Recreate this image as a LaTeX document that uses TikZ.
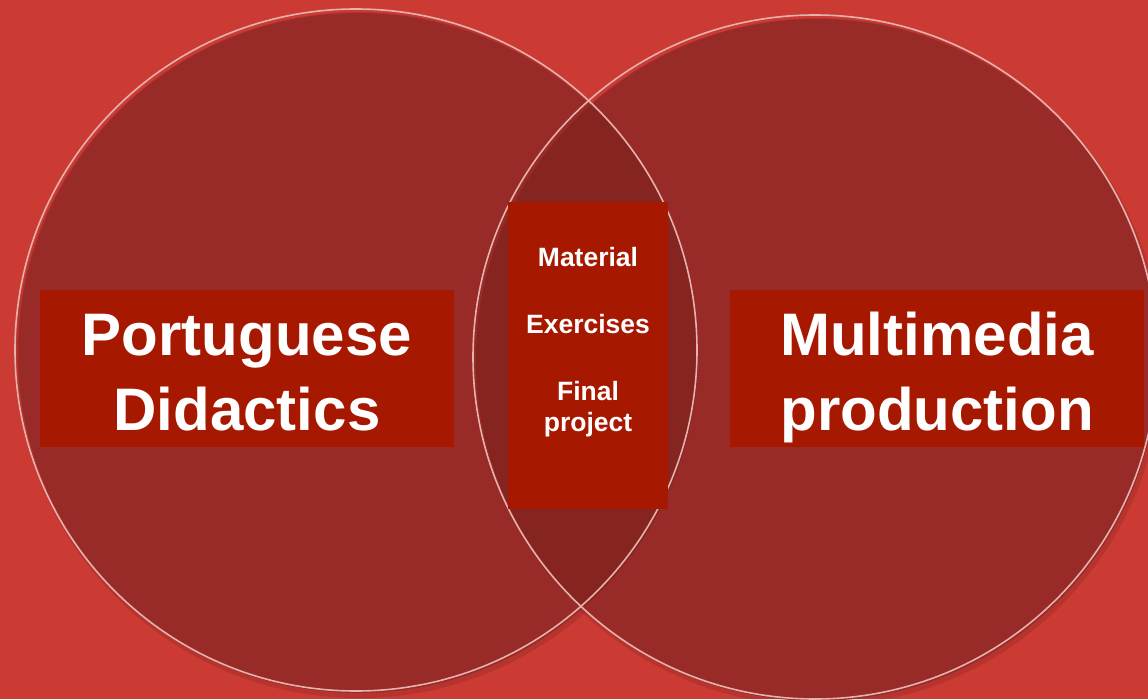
\documentclass[tikz,border=0pt]{standalone}
\usepackage{fontspec}
\setmainfont{Liberation Sans}
\definecolor{bgred}{HTML}{CC3A34}
\definecolor{discred}{HTML}{982A27}
\definecolor{lensred}{HTML}{86241F}
\definecolor{boxred}{HTML}{A71800}
\definecolor{rimpink}{HTML}{E6B2AE}
\tikzset{
  disc/.style={fill=discred},
  rim/.style={draw=rimpink, line width=1.6pt},
  labelbox/.style={fill=boxred, inner sep=0pt, outer sep=0pt},
  bigtxt/.style={text=white, font=\fontsize{60}{75}\selectfont\bfseries, inner sep=0pt, anchor=base},
  smalltxt/.style={text=white, font=\fontsize{26.5}{31}\selectfont\bfseries, inner sep=0pt, anchor=base},
}
\begin{document}
\begin{tikzpicture}[x=1pt,y=-1pt]
  \useasboundingbox (0,0) rectangle (1148,699);
  % background
  \fill[bgred] (0,0) rectangle (1148,699);
  % soft shadows of the two discs
  \fill[black, opacity=0.10] (359,355) circle[radius=343pt];
  \fill[black, opacity=0.10] (818,362) circle[radius=344pt];
  % discs
  \fill[disc] (358,353) circle[radius=340pt];
  \fill[disc] (817,360) circle[radius=341pt];
  % overlap of the two discs
  \begin{scope}
    \clip (358,353) circle[radius=340pt];
    \fill[lensred] (817,360) circle[radius=341pt];
  \end{scope}
  % rims
  \draw[rim] (356,350) circle[radius=341pt];
  \draw[rim] (815,357) circle[radius=342pt];
  % label boxes
  \node[labelbox, minimum width=414pt, minimum height=157pt] (leftbox) at (247,368.5) {};
  \node[labelbox, minimum width=160pt, minimum height=307pt] (midbox) at (588,355.5) {};
  \node[labelbox, minimum width=414pt, minimum height=157pt] (rightbox) at (937,368.5) {};
  % left label
  \node[bigtxt] (pt1) at (247,355) {Portuguese};
  \node[bigtxt] (pt2) at (247,430) {Didactics};
  % right label
  \node[bigtxt] (mm1) at (937,355) {Multimedia};
  \node[bigtxt] (mm2) at (937,430) {production};
  % shared items
  \node[smalltxt] (it1) at (588,266) {Material};
  \node[smalltxt] (it2) at (588,333) {Exercises};
  \node[smalltxt] (it3) at (588,400) {Final};
  \node[smalltxt] (it4) at (588,431) {project};
\end{tikzpicture}
\end{document}
